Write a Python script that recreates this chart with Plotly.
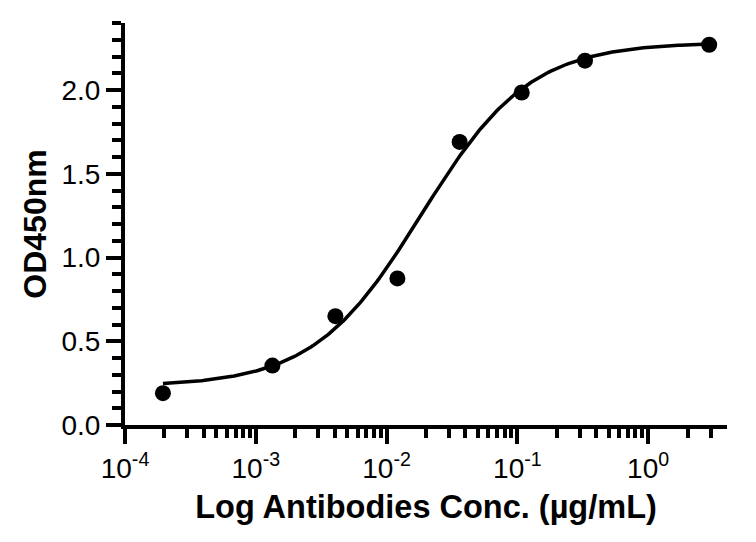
import numpy as np
import plotly.graph_objects as go

# Data
conc = [1.95e-4, 1.34e-3, 4.06e-3, 0.0121, 0.0362, 0.108, 0.329, 2.93]
od450 = [0.19, 0.355, 0.65, 0.875, 1.69, 1.985, 2.175, 2.27]

# 4PL fit parameters
fit_bottom = 0.23
fit_top = 2.285
fit_ec50 = 0.0185
fit_hill = 1.05

x_tick_vals = [1e-4, 1e-3, 1e-2, 1e-1, 1e0]
x_tick_text = ["10<sup>-4</sup>", "10<sup>-3</sup>", "10<sup>-2</sup>", "10<sup>-1</sup>", "10<sup>0</sup>"]
x_minor_vals = [m * 10.0 ** e for e in range(-4, 0) for m in range(2, 10)] + [2.0, 3.0]
y_tick_vals = [0.0, 0.5, 1.0, 1.5, 2.0]
y_tick_text = ["0.0", "0.5", "1.0", "1.5", "2.0"]

xc = np.logspace(np.log10(conc[0]), np.log10(conc[-1]), 300)
yc = fit_bottom + (fit_top - fit_bottom) / (1 + (fit_ec50 / xc) ** fit_hill)

fig = go.Figure()
fig.add_trace(go.Scatter(x=xc, y=yc, mode="lines",
                         line=dict(color="black", width=3.5), showlegend=False))
fig.add_trace(go.Scatter(x=conc, y=od450, mode="markers",
                         marker=dict(color="black", size=16), showlegend=False))

font = "Liberation Sans, Arial, sans-serif"
# page body has an 8px default margin, so the figure is sized to fit inside it
fig.update_layout(
    width=740, height=526,
    margin=dict(l=117, r=21, t=15, b=109),
    paper_bgcolor="white", plot_bgcolor="white",
    font=dict(family=font, color="black"),
)
fig.update_xaxes(
    type="log", range=[-4, 0.603], automargin=False,
    showgrid=False, zeroline=False,
    showline=True, linecolor="black", linewidth=4,
    ticks="outside", ticklen=15, tickwidth=4, tickcolor="black",
    tickmode="array", tickvals=x_tick_vals, ticktext=x_tick_text,
    tickfont=dict(size=28, family=font),
    minor=dict(tickmode="array", tickvals=x_minor_vals, ticks="outside",
               ticklen=9, tickwidth=4, tickcolor="black", showgrid=False),
    title=dict(text="<b>Log Antibodies Conc. (µg/mL)</b>",
               font=dict(size=32.5, family=font), standoff=14),
)
fig.update_yaxes(
    range=[0, 2.4], automargin=False,
    showgrid=False, zeroline=False,
    showline=True, linecolor="black", linewidth=4,
    ticks="outside", ticklen=15, tickwidth=4, tickcolor="black",
    tickmode="array", tickvals=y_tick_vals, ticktext=y_tick_text,
    tickfont=dict(size=28, family=font),
    minor=dict(dtick=0.1, ticks="outside", ticklen=9, tickwidth=4,
               tickcolor="black", showgrid=False),
    title=dict(text="<b>OD450nm</b>", font=dict(size=32, family=font), standoff=6),
)
fig.write_html("out.html")
